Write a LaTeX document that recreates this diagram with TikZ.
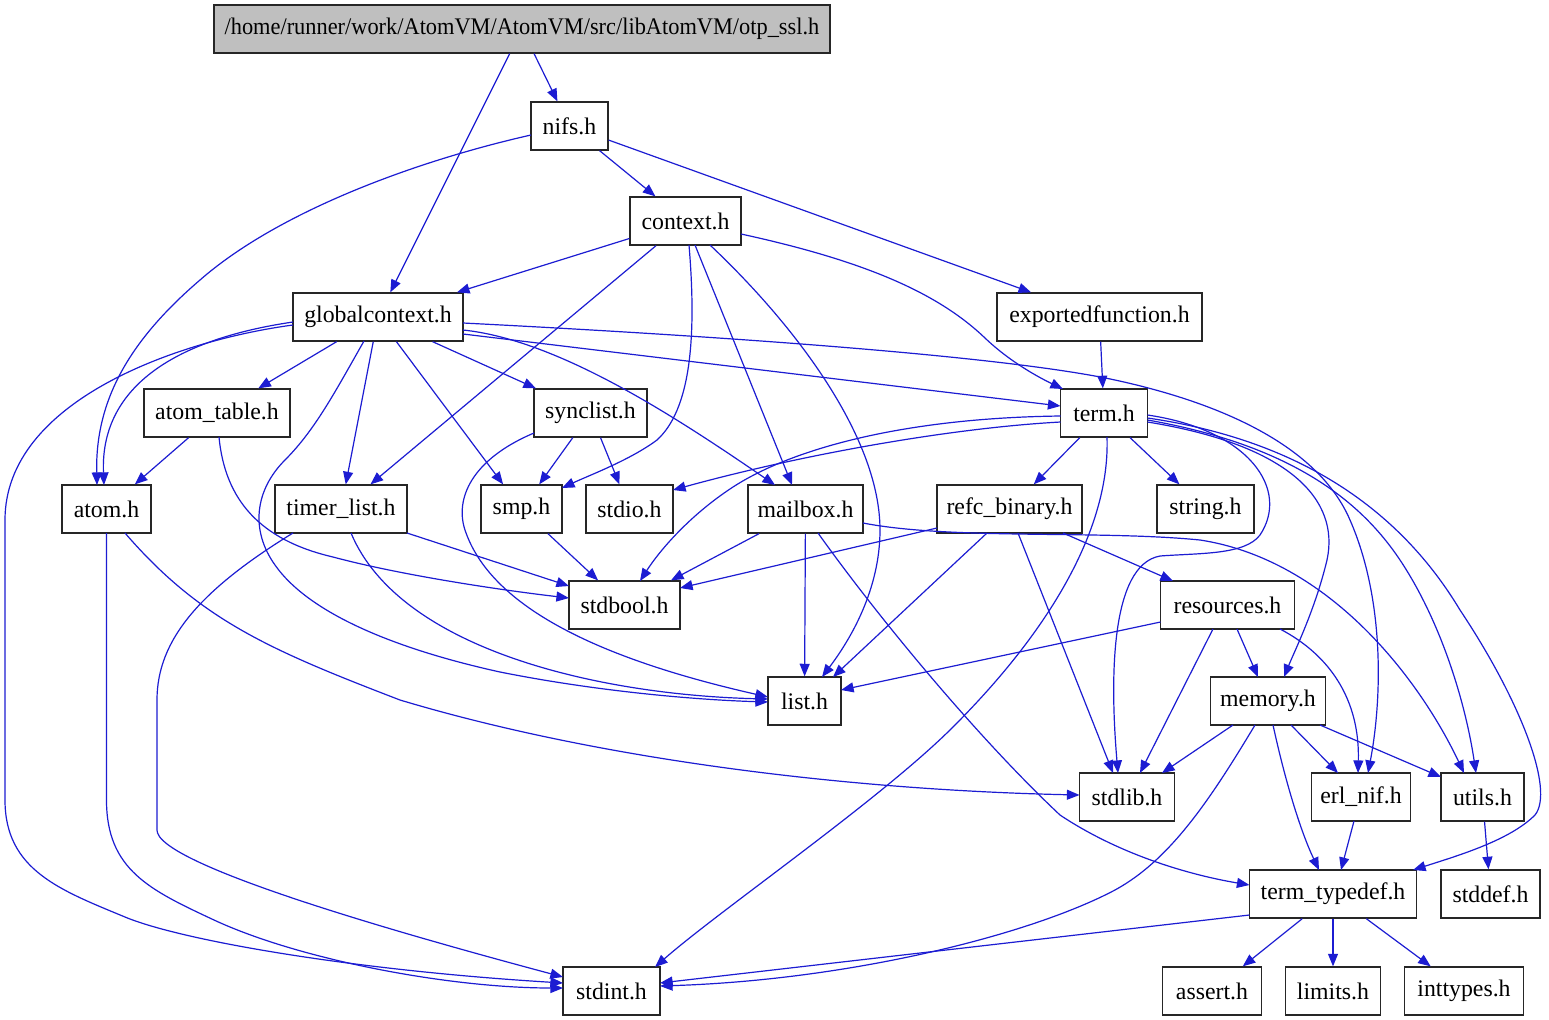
\documentclass[tikz,border=0pt]{standalone}
\usepackage{fontspec}
\setmainfont{Liberation Serif}
\usetikzlibrary{arrows.meta,calc}
\definecolor{edgeblue}{HTML}{1C1CD2}
\definecolor{topgray}{HTML}{BFBFBF}
\tikzset{
  box/.style={draw=black!85, line width=0.65pt, fill=white, rectangle, inner sep=0pt,
    minimum height=24pt, font=\fontsize{11.9pt}{14pt}\selectfont},
  e/.style={draw=edgeblue, line width=0.6pt, -{Triangle[length=6.3pt,width=5pt]}, edgeblue}
}
\begin{document}
\begin{tikzpicture}[x=0.5pt,y=-0.5pt]
\fill[white] (0,0) rectangle (1549,1019);
\useasboundingbox (0,0) rectangle (1549,1019);

% nodes
\node[box, fill=topgray, minimum width=308pt] (top) at (522,29) {\scalebox{0.94}[1]{/home/runner/work/AtomVM/AtomVM/src/libAtomVM/otp\_ssl.h}};
\node[box, minimum width=38.5pt] (nifs) at (569.5,126) {nifs.h};
\node[box, minimum width=55.5pt] (ctx) at (685.5,221) {context.h};
\node[box, minimum width=85pt] (gc) at (378,317) {globalcontext.h};
\node[box, minimum width=102.5pt] (exp) at (1099.5,317) {exportedfunction.h};
\node[box, minimum width=73pt] (at) at (217,413) {atom\_table.h};
\node[box, minimum width=56.5pt] (sync) at (590.5,413) {synclist.h};
\node[box, minimum width=43.5pt] (term) at (1104,413) {term.h};
\node[box, minimum width=44.5pt] (atom) at (106.5,509) {atom.h};
\node[box, minimum width=66pt] (tl) at (341,509) {timer\_list.h};
\node[box, minimum width=40.5pt] (smp) at (521.5,509) {smp.h};
\node[box, minimum width=43.5pt] (stdio) at (629.5,509) {stdio.h};
\node[box, minimum width=57.5pt] (mb) at (805.5,509) {mailbox.h};
\node[box, minimum width=72.5pt] (refc) at (1009.5,509) {refc\_binary.h};
\node[box, minimum width=48.5pt] (str) at (1205.5,509) {string.h};
\node[box, minimum width=55.5pt] (sbool) at (624.5,605) {stdbool.h};
\node[box, minimum width=67pt] (res) at (1227.5,605) {resources.h};
\node[box, minimum width=36.5pt] (list) at (804.5,701) {list.h};
\node[box, minimum width=57.5pt] (mem) at (1268,701) {memory.h};
\node[box, minimum width=47.5pt] (slib) at (1127,797) {stdlib.h};
\node[box, minimum width=49.5pt] (enif) at (1361,797) {erl\_nif.h};
\node[box, minimum width=41.5pt] (utils) at (1482.5,797) {utils.h};
\node[box, minimum width=83.5pt] (tt) at (1333,894) {term\_typedef.h};
\node[box, minimum width=49.5pt] (sdef) at (1490.5,894) {stddef.h};
\node[box, minimum width=48.5pt] (sint) at (611.5,991) {stdint.h};
\node[box, minimum width=49.5pt] (assert) at (1212,991) {assert.h};
\node[box, minimum width=47.5pt] (limits) at (1333,991) {limits.h};
\node[box, minimum width=59.5pt] (intt) at (1464,991) {inttypes.h};

% edges
\draw[e] (top) -- (nifs);
\draw[e] (top) -- (gc);
\draw[e] (nifs) -- (ctx);
\draw[e] (nifs) -- (exp);
\draw[e] ($(nifs)+(-38.5,9)$) .. controls (420,160) and (280,210) .. (200,280)
   .. controls (130,340) and (95,400) .. ($(atom)+(-9.5,-24)$);
\draw[e] (ctx) -- (gc);
\draw[e] (ctx) -- (tl);
\draw[e] ($(ctx)+(3.5,24)$) .. controls (697,340) and (690,410) .. (657,440)
   .. controls (630,460) and (590,475) .. ($(smp)+(40.5,-21)$);
\draw[e] ($(ctx)+(9.5,24)$) -- ($(mb)+(-13.5,-24)$);
\draw[e] ($(ctx)+(24.5,24)$) .. controls (800,330) and (880,440) .. (880,530)
   .. controls (880,590) and (850,640) .. ($(list)+(17.5,-24)$);
\draw[e] ($(ctx)+(55.5,13)$) .. controls (870,262) and (940,295) .. (985,338)
   .. controls (1010,362) and (1040,378) .. ($(term)+(-41,-24)$);
\draw[e] ($(gc)+(-85,8)$) .. controls (180,340) and (5,400) .. (5,520) -- (5,800)
   .. controls (5,870) and (60,890) .. (125,917)
   .. controls (180,940) and (350,970) .. ($(sint)+(-48.5,-8)$);
\draw[e] ($(gc)+(-85,5)$) .. controls (170,340) and (100,390) .. ($(atom)+(-2.5,-24)$);
\draw[e] (gc) -- (at);
\draw[e] ($(gc)+(-14,24)$) .. controls (335,392) and (315,430) .. (285,460)
   .. controls (255,490) and (250,530) .. (275,565)
   .. controls (310,615) and (400,650) .. (500,672)
   .. controls (600,692) and (700,700) .. ($(list)+(-36.5,1)$);
\draw[e] (gc) -- (tl);
\draw[e] (gc) -- (smp);
\draw[e] (gc) -- (sync);
\draw[e] ($(gc)+(85,13)$) .. controls (560,340) and (680,420) .. ($(mb)+(-30.5,-24)$);
\draw[e] ($(gc)+(85,17)$) -- ($(term)+(-43.5,-7)$);
\draw[e] ($(gc)+(85,6)$) .. controls (700,335) and (1000,355) .. (1115,380)
   .. controls (1230,405) and (1320,450) .. (1350,520)
   .. controls (1385,600) and (1382,700) .. ($(enif)+(7,-24)$);
\draw[e] (at) -- (atom);
\draw[e] ($(at)+(2,24)$) .. controls (225,500) and (260,540) .. (333,557)
   .. controls (400,575) and (500,590) .. ($(sbool)+(-55.5,-7)$);
\draw[e] (sync) -- (smp);
\draw[e] (sync) -- (stdio);
\draw[e] ($(sync)+(-56.5,20)$) .. controls (470,460) and (455,500) .. (465,530)
   .. controls (485,590) and (560,650) .. ($(list)+(-36.5,-4)$);
\draw[e] ($(term)+(-43.5,3)$) .. controls (900,418) and (790,450) .. (733,487)
   .. controls (690,515) and (660,550) .. ($(sbool)+(15.5,-24)$);
\draw[e] ($(term)+(-43.5,9)$) .. controls (950,428) and (800,455) .. ($(stdio)+(43.5,-19)$);
\draw[e] (term) -- (refc);
\draw[e] (term) -- (str);
\draw[e] ($(term)+(3,24)$) .. controls (1110,520) and (1060,620) .. (953,727)
   .. controls (880,800) and (720,910) .. ($(sint)+(43.5,-24)$);
\draw[e] ($(term)+(43.5,2)$) .. controls (1250,430) and (1290,490) .. (1260,535)
   .. controls (1245,555) and (1200,553) .. (1160,556)
   .. controls (1110,565) and (1110,680) .. ($(slib)+(-9,-24)$);
\draw[e] ($(term)+(43.5,9)$) .. controls (1290,445) and (1340,500) .. (1327,560)
   .. controls (1315,610) and (1295,650) .. ($(mem)+(16,-24)$);
\draw[e] ($(term)+(43.5,7)$) .. controls (1290,445) and (1360,500) .. (1400,560)
   .. controls (1440,620) and (1465,700) .. ($(utils)+(-6.5,-24)$);
\draw[e] ($(term)+(43.5,5)$) .. controls (1300,440) and (1400,510) .. (1460,610)
   .. controls (1520,700) and (1555,790) .. (1535,815)
   .. controls (1510,840) and (1460,855) .. ($(tt)+(80,-24)$);
\draw[e] (exp) -- (term);
\draw[e] ($(atom)+(0,24)$) -- (106.5,800) .. controls (106.5,870) and (150,890) .. (214,920)
   .. controls (300,960) and (450,988) .. ($(sint)+(-48.5,-3)$);
\draw[e] ($(atom)+(18.5,24)$) .. controls (200,620) and (270,650) .. (400,700)
   .. controls (600,760) and (850,790) .. ($(slib)+(-47.5,-2)$);
\draw[e] ($(tl)+(66,24)$) -- ($(sbool)+(-55.5,-19)$);
\draw[e] ($(tl)+(10,24)$) .. controls (400,650) and (600,695) .. ($(list)+(-36.5,-2)$);
\draw[e] ($(tl)+(-48,24)$) .. controls (200,590) and (157,640) .. (157,700) -- (157,830)
   .. controls (157,845) and (200,880) .. ($(sint)+(-48.5,-14)$);
\draw[e] (smp) -- (sbool);
\draw[e] (mb) -- (sbool);
\draw[e] (mb) -- (list);
\draw[e] ($(mb)+(12.5,24)$) .. controls (880,620) and (980,740) .. (1060,815)
   .. controls (1120,855) and (1190,875) .. ($(tt)+(-83.5,-9)$);
\draw[e] ($(mb)+(57.5,14)$) .. controls (950,540) and (1100,530) .. (1200,540)
   .. controls (1330,560) and (1420,680) .. ($(utils)+(-18.5,-24)$);
\draw[e] ($(refc)+(-72.5,19)$) -- ($(sbool)+(55.5,-17)$);
\draw[e] ($(refc)+(-22.5,24)$) -- ($(list)+(28.5,-24)$);
\draw[e] ($(refc)+(8.5,24)$) -- ($(slib)+(-14,-24)$);
\draw[e] ($(refc)+(53.5,24)$) -- ($(res)+(-54.5,-24)$);
\draw[e] ($(res)+(-67,17)$) -- ($(list)+(36.5,-11)$);
\draw[e] ($(res)+(-14.5,24)$) -- ($(slib)+(13,-24)$);
\draw[e] ($(res)+(9.5,24)$) -- ($(mem)+(-10,-24)$);
\draw[e] ($(res)+(52.5,24)$) .. controls (1330,655) and (1360,700) .. ($(enif)+(-3,-24)$);
\draw[e] ($(mem)+(-35,24)$) -- ($(slib)+(35,-24)$);
\draw[e] ($(mem)+(-13,24)$) .. controls (1210,800) and (1170,860) .. (1115,890)
   .. controls (1030,935) and (850,980) .. ($(sint)+(48.5,-5)$);
\draw[e] ($(mem)+(23,24)$) -- ($(enif)+(-23,-24)$);
\draw[e] ($(mem)+(52,24)$) -- ($(utils)+(-41.5,-20)$);
\draw[e] ($(mem)+(5,24)$) .. controls (1285,780) and (1300,830) .. ($(tt)+(-14,-24)$);
\draw[e] ($(enif)+(-7,24)$) -- ($(tt)+(8,-24)$);
\draw[e] (utils) -- (sdef);
\draw[e] ($(tt)+(-83.5,21)$) -- ($(sint)+(48.5,-8)$);
\draw[e] (tt) -- (assert);
\draw[e] (tt) -- (limits);
\draw[e] (tt) -- (intt);
\end{tikzpicture}
\end{document}
